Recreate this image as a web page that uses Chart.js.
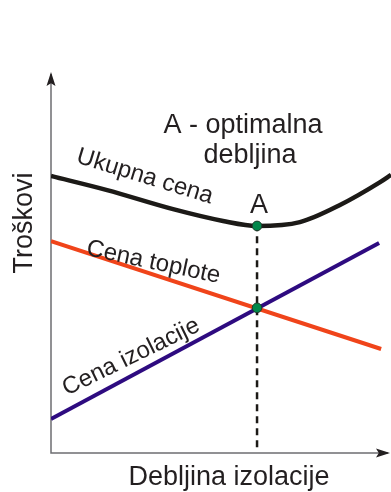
<!DOCTYPE html>
<html>
<head>
<meta charset="utf-8">
<script src="https://cdn.jsdelivr.net/npm/chart.js@4/dist/chart.umd.min.js"></script>
<style>
    html, body { margin: 0; padding: 0; background: #fff; }
    canvas { display: block; }
</style>
</head>
<body>
<canvas id="chart" width="391" height="492"></canvas>
<script>
// debljina izolacije (x) i troskovi (y), proizvoljne jedinice 0-10
const ukupnaX = [0, 1.65, 3.59, 5.06, 6.06, 7.32, 8.5, 9.68, 10];
const ukupnaY = [7.27, 6.90, 6.40, 6.09, 5.96, 6.06, 6.51, 7.11, 7.30];
const toploteX = [0, 9.71];
const toploteY = [5.56, 2.73];
const izolacijeX = [0, 9.65];
const izolacijeY = [0.89, 5.51];
const optimumX = 6.06;
const optimumY = [0.15, 5.96];   // isprekidana linija od ose do minimuma
const presekY = 3.81;            // presek toplote i izolacije

const pts = (xs, ys) => xs.map((x, i) => ({ x: x, y: ys[i] }));

const textColor = '#231f20';
const fontFamily = '"Liberation Sans", Arial, sans-serif';

// natpisi (pozicije u pikselima, sredina osnovne linije)
const labels = [
    { text: 'Troškovi', x: 32, y: 223, rot: -90, size: 27 },
    { text: 'Debljina izolacije', x: 229, y: 485, rot: 0, size: 27 },
    { text: 'A - optimalna', x: 243, y: 133, rot: 0, size: 27 },
    { text: 'debljina', x: 250, y: 163, rot: 0, size: 27 },
    { text: 'A', x: 259, y: 213, rot: 0, size: 27 },
    { text: 'Ukupna cena', x: 143, y: 183, rot: 17, size: 24 },
    { text: 'Cena toplote', x: 152, y: 269, rot: 12, size: 24 },
    { text: 'Cena izolacije', x: 134, y: 363, rot: -26, size: 24 }
];

function arrow(ctx, x, y, dx, dy) {
    // vrh u (x, y), smer (dx, dy)
    const len = 14, half = 4.5;
    const px = -dy, py = dx;
    ctx.beginPath();
    ctx.moveTo(x, y);
    ctx.lineTo(x - dx * len + px * half, y - dy * len + py * half);
    ctx.lineTo(x - dx * len * 0.8, y - dy * len * 0.8);
    ctx.lineTo(x - dx * len - px * half, y - dy * len - py * half);
    ctx.closePath();
    ctx.fill();
}

const axesPlugin = {
    id: 'axesPlugin',
    beforeDatasetsDraw(chart) {
        const ctx = chart.ctx;
        const xs = chart.scales.x, ys = chart.scales.y;
        const x0 = xs.getPixelForValue(0);
        const y0 = ys.getPixelForValue(0);
        ctx.save();
        ctx.strokeStyle = '#6d6e71';
        ctx.lineWidth = 1.5;
        ctx.beginPath();
        ctx.moveTo(x0, 74);
        ctx.lineTo(x0, y0);
        ctx.lineTo(388, y0);
        ctx.stroke();
        ctx.fillStyle = '#231f20';
        arrow(ctx, x0, 72, 0, -1);
        arrow(ctx, 390, y0, 1, 0);
        ctx.restore();
    },
    afterDraw(chart) {
        const ctx = chart.ctx;
        ctx.save();
        ctx.fillStyle = textColor;
        ctx.textAlign = 'center';
        ctx.textBaseline = 'alphabetic';
        labels.forEach(l => {
            ctx.save();
            ctx.translate(l.x, l.y);
            ctx.rotate(l.rot * Math.PI / 180);
            ctx.font = l.size + 'px ' + fontFamily;
            ctx.fillText(l.text, 0, 0);
            ctx.restore();
        });
        ctx.restore();
    }
};

new Chart(document.getElementById('chart'), {
    type: 'scatter',
    data: {
        datasets: [
            {
                label: 'Tačke',
                data: [{ x: optimumX, y: optimumY[1] }, { x: optimumX, y: presekY }],
                backgroundColor: '#00874a',
                borderColor: '#1d3b2a',
                borderWidth: 1,
                pointRadius: 4.8,
                showLine: false,
                order: 0
            },
            {
                label: 'Ukupna cena',
                data: pts(ukupnaX, ukupnaY),
                borderColor: '#1c1a17',
                borderWidth: 4.5,
                showLine: true,
                cubicInterpolationMode: 'monotone',
                pointRadius: 0,
                order: 1
            },
            {
                label: 'Optimum',
                data: pts([optimumX, optimumX], optimumY),
                borderColor: '#1c1a17',
                borderWidth: 2.5,
                borderDash: [7, 5],
                showLine: true,
                pointRadius: 0,
                order: 4
            },
            {
                label: 'Cena izolacije',
                data: pts(izolacijeX, izolacijeY),
                borderColor: '#2e0b80',
                borderWidth: 4,
                showLine: true,
                pointRadius: 0,
                order: 2
            },
            {
                label: 'Cena toplote',
                data: pts(toploteX, toploteY),
                borderColor: '#f0441a',
                borderWidth: 4,
                showLine: true,
                pointRadius: 0,
                order: 3
            }
        ]
    },
    options: {
        responsive: false,
        animation: false,
        events: [],
        layout: {
            autoPadding: false,
            padding: { left: 51, right: 0, top: 72, bottom: 39 }
        },
        plugins: {
            legend: { display: false },
            tooltip: { enabled: false }
        },
        scales: {
            x: { type: 'linear', min: 0, max: 10, display: false },
            y: { type: 'linear', min: 0, max: 10, display: false }
        }
    },
    plugins: [axesPlugin]
});
</script>
</body>
</html>
